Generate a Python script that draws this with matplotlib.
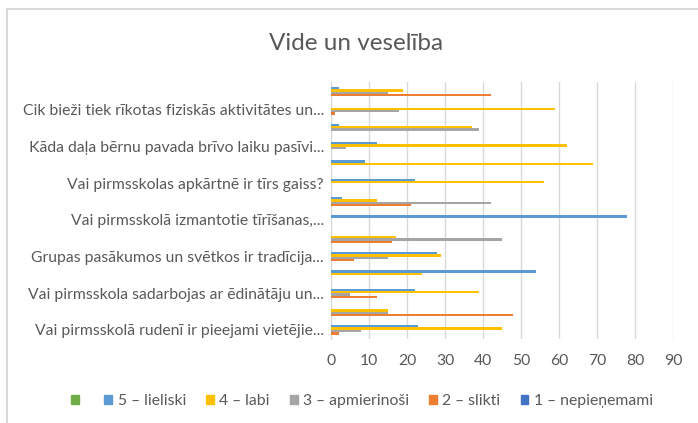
import numpy as np
import matplotlib.pyplot as plt
from matplotlib.lines import Line2D
plt.rcParams.update({'font.family': ['Lato', 'DejaVu Sans'], 'font.size': 11.3})

# categories from top to bottom (only every other label is shown in the chart)
labels = ["", "Cik bieži tiek rīkotas fiziskās aktivitātes un...",
          "", "Kāda daļa bērnu pavada brīvo laiku pasīvi...",
          "", "Vai pirmsskolas apkārtnē ir tīrs gaiss?",
          "", "Vai pirmsskolā izmantotie tīrīšanas,...",
          "", "Grupas pasākumos un svētkos ir tradīcija...",
          "", "Vai pirmsskola sadarbojas ar ēdinātāju un...",
          "", "Vai pirmsskolā rudenī ir pieejami vietējie..."]

green = [0] * 14
lieliski = [2, 0, 2, 12, 9, 22, 3, 78, 0, 28, 54, 22, 0, 23]
labi = [19, 59, 37, 62, 69, 56, 12, 0, 17, 29, 24, 39, 15, 45]
apmierinosi = [15, 18, 39, 4, 0, 0, 42, 0, 45, 15, 0, 5, 15, 8]
slikti = [42, 1, 0, 0, 0, 0, 21, 0, 16, 6, 0, 12, 48, 2]
nepienemami = [0] * 14

series = [("", green, "#70AD47"),
          ("5 – lieliski", lieliski, "#5B9BD5"),
          ("4 – labi", labi, "#FFC000"),
          ("3 – apmierinoši", apmierinosi, "#A5A5A5"),
          ("2 – slikti", slikti, "#ED7D31"),
          ("1 – nepieņemami", nepienemami, "#4472C4")]

txt = "#595959"
fig = plt.figure(figsize=(6.98, 4.23), dpi=100)
ax = fig.add_axes([331/698, 1 - 339/423, 342/698, (339 - 82.5)/423])

n = len(labels)
ypos = np.arange(n)[::-1]
w = 1 / 7.82
for k, (name, vals, col) in enumerate(series):
    ax.barh(ypos + (2.5 - k) * w, vals, height=w, color=col, label=name, zorder=3)

ax.set_ylim(-0.5, n - 0.5)
ax.set_xlim(0, 90)
ax.set_xticks(range(0, 91, 10))
ax.set_yticks(ypos)
ax.set_yticklabels(labels)
ax.grid(axis='x', color='#D9D9D9', linewidth=1, zorder=0)
for s in ['top', 'right', 'bottom']:
    ax.spines[s].set_visible(False)
ax.spines['left'].set_color('#D9D9D9')
ax.tick_params(length=0, colors=txt, labelsize=11.3)
ax.tick_params(axis='x', pad=11)
ax.tick_params(axis='y', pad=5)

fig.text(356/698, 1 - 43/423, "Vide un veselība", ha='center', va='center', fontsize=17.5, color=txt)

handles = [plt.Rectangle((0, 0), 1, 1, color=c) for _, _, c in series]
leg = fig.legend(handles, [s[0] for s in series], loc='center', ncol=6,
                 bbox_to_anchor=(362/698, 1 - 401/423), frameon=False,
                 handlelength=0.5, handleheight=0.5, handletextpad=0.35,
                 columnspacing=1.27, fontsize=11.3)
for t in leg.get_texts():
    t.set_color(txt)

# chart border (cropped: only top and left edges visible)
fig.add_artist(Line2D([7.5/698, 1], [1 - 9.5/423] * 2, color='#D9D9D9', linewidth=1.5))
fig.add_artist(Line2D([7.5/698] * 2, [0, 1 - 9.5/423], color='#D9D9D9', linewidth=1.5))

fig.savefig("out.png", dpi=100)
